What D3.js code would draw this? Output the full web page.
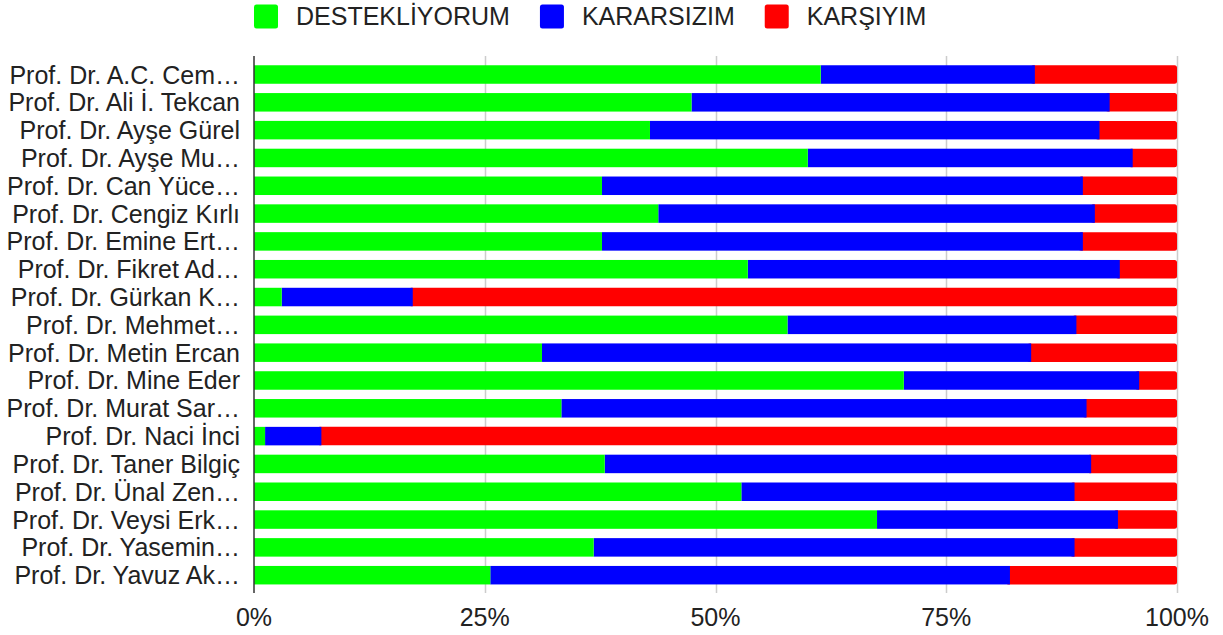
<!DOCTYPE html>
<meta charset="utf-8" />
<script src="https://d3js.org/d3.v7.min.js"></script>
<style>
  body { margin: 0; background: #fff; }
  text { font-family: "Liberation Sans", Arial, sans-serif; fill: #222; }
</style>
<div id="chart"></div>
<script>
  // Data (percent of votes)
  const names = [
    "Prof. Dr. A.C. Cem…", "Prof. Dr. Ali İ. Tekcan", "Prof. Dr. Ayşe Gürel",
    "Prof. Dr. Ayşe Mu…", "Prof. Dr. Can Yüce…", "Prof. Dr. Cengiz Kırlı",
    "Prof. Dr. Emine Ert…", "Prof. Dr. Fikret Ad…", "Prof. Dr. Gürkan K…",
    "Prof. Dr. Mehmet…", "Prof. Dr. Metin Ercan", "Prof. Dr. Mine Eder",
    "Prof. Dr. Murat Sar…", "Prof. Dr. Naci İnci", "Prof. Dr. Taner Bilgiç",
    "Prof. Dr. Ünal Zen…", "Prof. Dr. Veysi Erk…", "Prof. Dr. Yasemin…",
    "Prof. Dr. Yavuz Ak…"
  ];
  const destekliyorum = [61.4, 47.4, 42.9, 60.0, 37.7, 43.8, 37.7, 53.5, 3.0, 57.8, 31.2, 70.4, 33.3, 1.2, 38.0, 52.8, 67.5, 36.8, 25.6];
  const kararsizim    = [23.2, 45.3, 48.7, 35.2, 52.1, 47.3, 52.1, 40.3, 14.2, 31.3, 53.0, 25.5, 56.9, 6.1, 52.7, 36.1, 26.1, 52.1, 56.3];
  const karsiyim      = [15.4, 7.3, 8.4, 4.8, 10.2, 8.9, 10.2, 6.2, 82.8, 10.9, 15.8, 4.1, 9.8, 92.7, 9.3, 11.1, 6.4, 11.1, 18.1];
  const seriesNames = ["DESTEKLİYORUM", "KARARSIZIM", "KARŞIYIM"];
  const seriesColors = ["#00ff00", "#0000ff", "#ff0000"];
  const tickValues = [0, 0.25, 0.5, 0.75, 1];

  const width = 1223, height = 635;
  const fontSize = "25px";

  const svg = d3.select("#chart").append("svg")
    .attr("width", width)
    .attr("height", height);

  const rows = names.map((n, i) => ({
    name: n,
    s0: destekliyorum[i],
    s1: kararsizim[i],
    s2: karsiyim[i]
  }));

  const stacked = d3.stack()
    .keys(["s0", "s1", "s2"])
    .offset(d3.stackOffsetExpand)(rows);

  const x = d3.scaleLinear().domain([0, 1]).range([254, 1177]);
  const y = d3.scaleBand()
    .domain(names)
    .range([60.6, 589.1])
    .paddingInner(0.335)
    .paddingOuter(0.1675);

  // Gridlines
  svg.append("g")
    .selectAll("line")
    .data(tickValues.slice(1))
    .join("line")
    .attr("x1", d => Math.round(x(d)) + 0.5)
    .attr("x2", d => Math.round(x(d)) + 0.5)
    .attr("y1", 56)
    .attr("y2", 593)
    .attr("stroke", "#cccccc")
    .attr("stroke-width", 1.5);

  // Bars: draw last series first so the rounded right end of red is kept
  const layers = stacked.slice().reverse();
  svg.append("g")
    .selectAll("g")
    .data(layers)
    .join("g")
    .attr("fill", d => seriesColors[d.index])
    .selectAll("rect")
    .data(d => d.map(v => ({ v: v, last: d.index === 2 })))
    .join("rect")
    .attr("x", d => x(d.v[0]) - (d.last ? 4 : 0))
    .attr("y", d => y(d.v.data.name))
    .attr("width", d => x(d.v[1]) - x(d.v[0]) + (d.last ? 4 : 0))
    .attr("height", y.bandwidth())
    .attr("rx", d => d.last ? 2.5 : 0);

  // Zero baseline
  svg.append("line")
    .attr("x1", x(0)).attr("x2", x(0))
    .attr("y1", 56).attr("y2", 593)
    .attr("stroke", "#333")
    .attr("stroke-width", 1.5);

  // Category labels
  svg.append("g")
    .selectAll("text")
    .data(names)
    .join("text")
    .attr("x", 240)
    .attr("y", d => y(d) + y.bandwidth() / 2)
    .attr("dy", "0.36em")
    .attr("text-anchor", "end")
    .style("font-size", fontSize)
    .text(d => d);

  // Tick labels
  svg.append("g")
    .selectAll("text")
    .data(tickValues)
    .join("text")
    .attr("x", d => x(d))
    .attr("y", 626)
    .attr("text-anchor", "middle")
    .style("font-size", fontSize)
    .text(d3.format(".0%"));

  // Legend
  const legend = svg.append("g");
  let lx = 254;
  seriesNames.forEach((name, i) => {
    legend.append("rect")
      .attr("x", lx).attr("y", 4.5)
      .attr("width", 24).attr("height", 24)
      .attr("rx", 2.5)
      .attr("fill", seriesColors[i]);
    const t = legend.append("text")
      .attr("x", lx + 42)
      .attr("y", 25)
      .style("font-size", fontSize)
      .text(name);
    lx += 42 + t.node().getComputedTextLength() + 30;
  });
</script>
